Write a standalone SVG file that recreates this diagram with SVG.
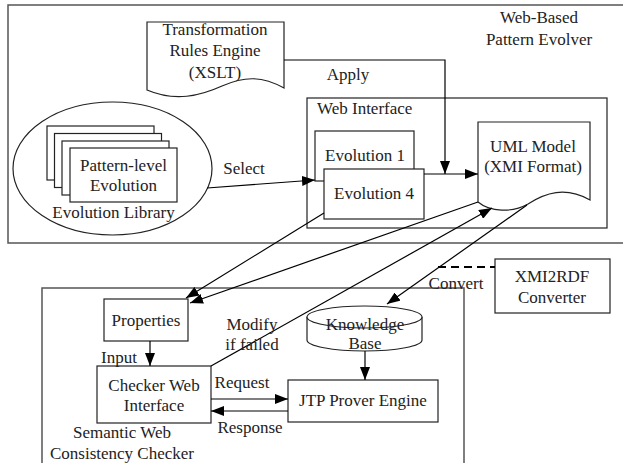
<svg xmlns="http://www.w3.org/2000/svg" width="623" height="463" viewBox="0 0 623 463">
<defs>
<style>
.t{font-family:"Liberation Serif","Times New Roman",serif;font-size:17px;fill:#222;text-anchor:middle}
.s{fill:#fff;stroke:#222;stroke-width:1.2}
.f{fill:none;stroke:#555;stroke-width:1.5}
.c{fill:none;stroke:#000;stroke-width:1.2}
</style>
<marker id="ah" markerWidth="14" markerHeight="10" refX="13" refY="5" orient="auto" markerUnits="userSpaceOnUse"><path d="M0,0 L13,5 L0,10 z" fill="#000"/></marker>
</defs>
<rect width="623" height="463" fill="#fff"/>
<g id="frame-evolver">
<path class="f" d="M630,5 H8 V243 H630"/>
<text class="t" x="539" y="23">Web-Based</text>
<text class="t" x="539" y="45">Pattern Evolver</text>
</g>
<g id="frame-checker">
<path class="f" d="M42,470 V288 H464 V470"/>
<text class="t" x="122" y="438">Semantic Web</text>
<text class="t" x="122" y="459">Consistency Checker</text>
</g>
<g id="web-interface">
<rect class="s" x="307" y="98" width="300" height="130"/>
<text class="t" x="317" y="114" style="text-anchor:start">Web Interface</text>
</g>
<g id="transformation">
<path class="s" d="M147,22 H284 V88 C262,76 245,76 222,86 C200,96 175,102 147,90 Z"/>
<text class="t" x="215" y="35">Transformation</text>
<text class="t" x="215" y="56">Rules Engine</text>
<text class="t" x="215" y="78">(XSLT)</text>
</g>
<g id="library">
<ellipse class="s" cx="112.5" cy="168.5" rx="99.5" ry="66.5"/>
<rect class="s" x="47" y="126" width="107" height="54"/>
<rect class="s" x="54.5" y="133.5" width="107" height="54"/>
<rect class="s" x="62" y="141" width="107" height="54"/>
<rect class="s" x="70" y="148" width="107" height="54"/>
<text class="t" x="123.5" y="171">Pattern-level</text>
<text class="t" x="123.5" y="191">Evolution</text>
<text class="t" x="113.5" y="218">Evolution Library</text>
</g>
<g id="evolution1">
<rect class="s" x="315" y="131" width="99" height="50"/>
<text class="t" x="365" y="161">Evolution 1</text>
</g>
<g id="evolution4">
<rect class="s" x="324" y="169" width="100" height="50"/>
<text class="t" x="374" y="199">Evolution 4</text>
</g>
<g id="uml">
<path class="s" d="M478,122 H590 V200 C565,186 545,193 528,204 C512,213 490,212 478,202 Z"/>
<text class="t" x="533" y="152">UML Model</text>
<text class="t" x="533" y="172">(XMI Format)</text>
</g>
<g id="xmi2rdf">
<rect class="s" x="495" y="259" width="115" height="54"/>
<text class="t" x="552" y="282">XMI2RDF</text>
<text class="t" x="552" y="303">Converter</text>
</g>
<g id="properties">
<rect class="s" x="104" y="299" width="84" height="42"/>
<text class="t" x="146" y="326">Properties</text>
</g>
<g id="checker">
<rect class="s" x="97" y="366" width="114" height="57"/>
<text class="t" x="154" y="391">Checker Web</text>
<text class="t" x="154" y="411">Interface</text>
</g>
<g id="knowledge">
<path class="s" d="M307,317 V340 A57.5,11 0 0 0 422,340 V317"/>
<ellipse class="s" cx="364.5" cy="317" rx="57.5" ry="11"/>
<text class="t" x="365" y="330">Knowledge</text>
<text class="t" x="365" y="349">Base</text>
</g>
<g id="jtp">
<rect class="s" x="288" y="380" width="150" height="42"/>
<text class="t" x="363" y="406">JTP Prover Engine</text>
</g>
<g id="connectors">
<polyline class="c" points="284,60 445,60 445,174" marker-end="url(#ah)"/>
<line class="c" x1="207" y1="188" x2="315" y2="180" marker-end="url(#ah)"/>
<line class="c" x1="424" y1="174" x2="478" y2="174" marker-end="url(#ah)"/>
<line class="c" x1="324" y1="213" x2="186" y2="298" marker-end="url(#ah)"/>
<line class="c" x1="478" y1="202" x2="190" y2="303" marker-end="url(#ah)"/>
<line class="c" x1="211" y1="366" x2="492" y2="208" marker-end="url(#ah)"/>
<line class="c" x1="527" y1="205" x2="387" y2="304" marker-end="url(#ah)"/>
<line x1="438" y1="267" x2="495" y2="267" stroke="#000" stroke-dasharray="8,5" stroke-width="2.2"/>
<line class="c" x1="150" y1="341" x2="150" y2="366" marker-end="url(#ah)"/>
<line class="c" x1="365" y1="351" x2="365" y2="380" marker-end="url(#ah)"/>
<line class="c" x1="211" y1="399" x2="288" y2="399" marker-end="url(#ah)"/>
<line class="c" x1="288" y1="411" x2="211" y2="411" marker-end="url(#ah)"/>
<text class="t" x="348" y="80">Apply</text>
<text class="t" x="244" y="174">Select</text>
<text class="t" x="252" y="330">Modify</text>
<text class="t" x="252" y="350">if failed</text>
<text class="t" x="456" y="289">Convert</text>
<text class="t" x="119" y="363">Input</text>
<text class="t" x="242" y="388">Request</text>
<text class="t" x="250" y="433">Response</text>
</g>
</svg>
